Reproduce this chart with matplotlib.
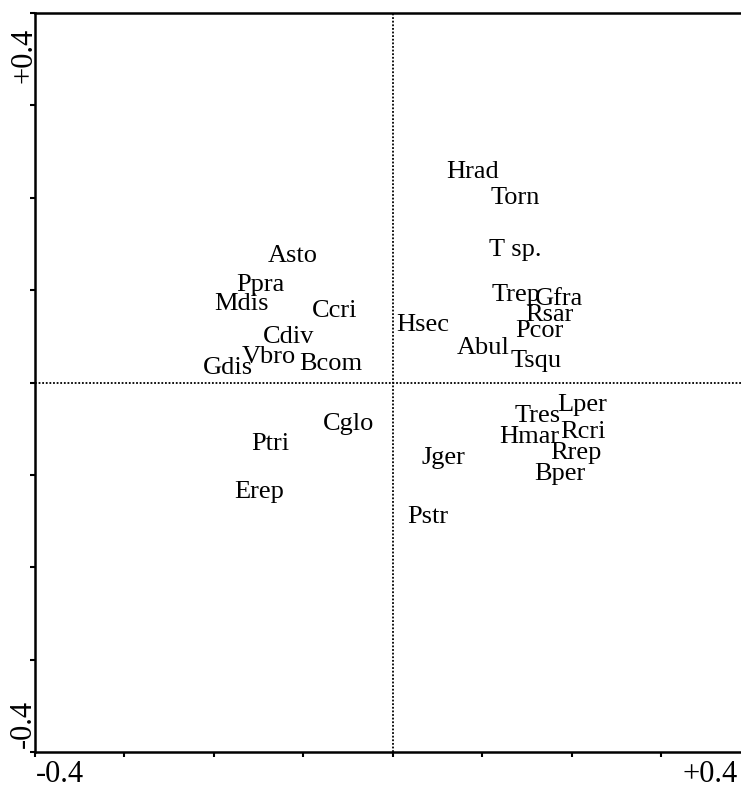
import matplotlib
matplotlib.use("Agg")
import matplotlib.pyplot as plt
import numpy as np

species = ["Hrad", "Torn", "T sp.", "Asto", "Ppra", "Mdis", "Ccri", "Trep", "Gfra",
           "Rsar", "Pcor", "Hsec", "Cdiv", "Abul", "Tsqu", "Gdis", "Vbro", "Bcom",
           "Cglo", "Ptri", "Erep", "Jger", "Pstr", "Tres", "Lper", "Hmar", "Rcri",
           "Rrep", "Bper"]
axis1 = [0.0894, 0.1363, 0.1363, -0.1117, -0.1486, -0.1698, -0.0648, 0.1374, 0.1855,
         0.1754, 0.1642, 0.0335, -0.1162, 0.1006, 0.1598, -0.1844, -0.1388, -0.0693,
         -0.0492, -0.1374, -0.1497, 0.0559, 0.0391, 0.1620, 0.2112, 0.1520, 0.2123,
         0.2045, 0.1866]
axis2 = [0.2278, 0.1997, 0.1434, 0.1369, 0.1055, 0.0850, 0.0774, 0.0942, 0.0909,
         0.0731, 0.0557, 0.0622, 0.0493, 0.0373, 0.0233, 0.0157, 0.0276, 0.0201,
         -0.0449, -0.0666, -0.1185, -0.0817, -0.1456, -0.0363, -0.0244, -0.0590,
         -0.0536, -0.0763, -0.0990]
ticks = [-0.4, -0.3, -0.2, -0.1, 0.0, 0.1, 0.2, 0.3, 0.4]

plt.rcParams['font.family'] = ['Liberation Serif', 'DejaVu Serif']

fig = plt.figure(figsize=(7.41, 7.91), dpi=100)
ax = fig.add_axes([35/741, 39/791, 1 - 35/741, (752-13)/791])

ax.set_xticks(ticks)
ax.set_yticks(ticks)
ax.set_xticklabels([])
ax.set_yticklabels([])
ax.set_xlim(-0.4, 0.389)
ax.set_ylim(-0.4, 0.4)

ax.axhline(0, color='black', lw=1.3, ls=(0, (1, 1.0)))
ax.axvline(0, color='black', lw=1.3, ls=(0, (1, 1.0)))

for name, x, y in zip(species, axis1, axis2):
    ax.text(x, y, name, ha='center', va='center', fontsize=19, color='black')

ax.tick_params(direction='out', length=3.5, width=1.5, colors='black')
for s in ['left', 'bottom', 'top']:
    ax.spines[s].set_linewidth(1.8)
ax.spines['right'].set_visible(False)

fig.text(60/741, 1 - 775/791, "-0.4", ha='center', va='center', fontsize=22)
fig.text(710/741, 1 - 775/791, "+0.4", ha='center', va='center', fontsize=22)
fig.text(24/741, 1 - 55/791, "+0.4", ha='center', va='center', fontsize=22, rotation=90)
fig.text(23/741, 1 - 724/791, "-0.4", ha='center', va='center', fontsize=22, rotation=90)

fig.savefig("out.png", dpi=100)
